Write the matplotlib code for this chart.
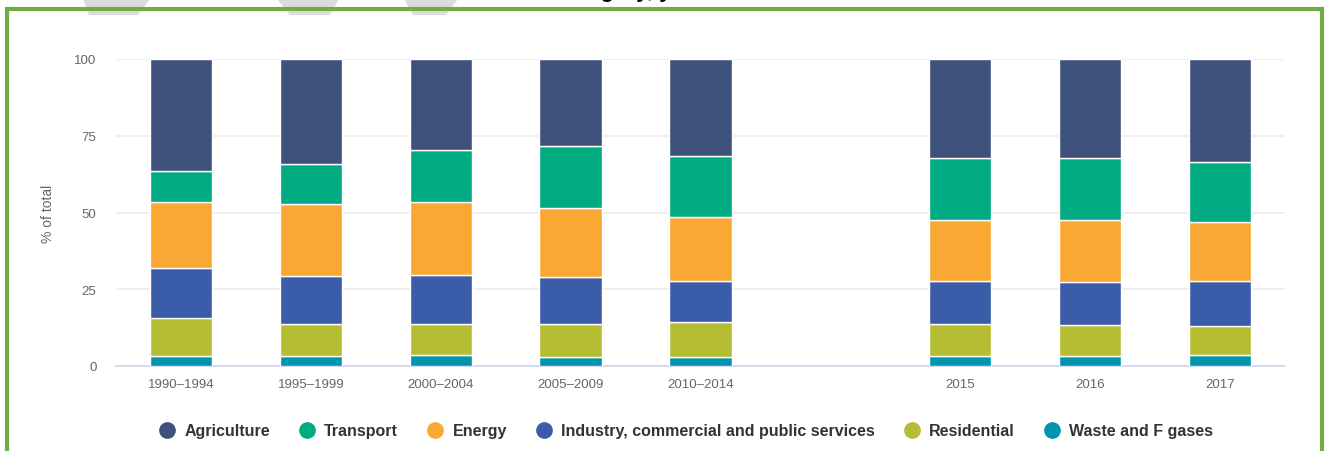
import matplotlib.pyplot as plt
from matplotlib.patches import Polygon, Rectangle
from matplotlib.lines import Line2D
import numpy as np

# data (% of total)
periods = ['1990–1994', '1995–1999', '2000–2004', '2005–2009', '2010–2014',
           '2015', '2016', '2017']
sectors = ['Waste and F gases', 'Residential',
           'Industry, commercial and public services', 'Energy',
           'Transport', 'Agriculture']
waste = [3.3, 3.3, 3.6, 3.0, 3.0, 3.2, 3.2, 3.6]
residential = [12.3, 10.4, 10.1, 10.7, 11.2, 10.5, 10.2, 9.3]
industry = [16.3, 15.6, 15.9, 15.4, 13.4, 13.9, 13.8, 14.7]
energy = [21.5, 23.5, 23.9, 22.4, 20.8, 20.1, 20.5, 19.2]
transport = [10.1, 13.0, 17.0, 20.1, 19.9, 20.0, 20.0, 19.7]
agriculture = [36.5, 34.2, 29.5, 28.4, 31.7, 32.3, 32.3, 33.5]

colors = {
    'Agriculture': '#3f527c',
    'Transport': '#00ab82',
    'Energy': '#f9a833',
    'Industry, commercial and public services': '#3b5ca9',
    'Residential': '#b5bd33',
    'Waste and F gases': '#0094ad',
}

FONT = ['Liberation Sans', 'DejaVu Sans']
plt.rcParams['font.family'] = FONT

W, H = 1330, 452
fig = plt.figure(figsize=(W / 100, H / 100), dpi=100)

# plot area in pixel terms
left, right, top, bottom = 116, 1285, 60, 367
ax = fig.add_axes([left / W, 1 - bottom / H, (right - left) / W, (bottom - top) / H])

# one empty slot between the 5-year groups and the single years
x = np.arange(len(periods)) + (np.arange(len(periods)) >= 5)

series = [waste, residential, industry, energy, transport, agriculture]
base = np.zeros(len(periods))
for name, vals in zip(sectors, series):
    ax.bar(x, vals, bottom=base, width=0.48, color=colors[name],
           edgecolor='white', linewidth=1.0, zorder=3)
    base += np.array(vals)

ax.set_xlim(-0.5, 8.5)
ax.set_ylim(0, 100)
ax.set_yticks([0, 25, 50, 75, 100])
ax.set_xticks(x)
ax.set_xticklabels(periods)
ax.tick_params(axis='both', length=0, colors='#666666', labelsize=9.5)
ax.tick_params(axis='y', pad=14)
ax.tick_params(axis='x', pad=9)
ax.grid(axis='y', color='#ececec', linewidth=1.2, zorder=0)
for s in ['top', 'right', 'left']:
    ax.spines[s].set_visible(False)
ax.spines['bottom'].set_color('#ccd6eb')
ax.spines['bottom'].set_linewidth(1.2)
ax.set_ylabel('% of total', color='#666666', fontsize=10, labelpad=0)
ax.yaxis.set_label_coords(-(left - 55) / (right - left), 0.5)

# legend
order = ['Agriculture', 'Transport', 'Energy',
         'Industry, commercial and public services', 'Residential',
         'Waste and F gases']
handles = [Line2D([], [], marker='o', linestyle='none', markersize=11,
                  markerfacecolor=colors[n], markeredgecolor=colors[n])
           for n in order]
leg = fig.legend(handles, order, loc='center', bbox_to_anchor=(684 / W, 1 - 432 / H),
                 ncol=6, frameon=False, handletextpad=0.35, columnspacing=1.55,
                 handlelength=1.5,
                 prop={'family': FONT, 'weight': 'bold', 'size': 11.5})
for t in leg.get_texts():
    t.set_color('#333333')

# grey shapes peeking in at the top
for xs in [(83, 150, 138, 89), (277, 339, 330, 290), (404, 458, 446, 413)]:
    pts = [(xs[0] / W, 1.0), (xs[1] / W, 1.0), (xs[2] / W, 1 - 16 / H), (xs[3] / W, 1 - 16 / H)]
    fig.patches.append(Polygon(pts, closed=True, transform=fig.transFigure,
                               facecolor='#dcdcdc', edgecolor='none'))

# clipped title fragment (only its lower edge shows above the frame)
fig.text(556 / W, 1 + 8 / H, 'category, year', ha='left', va='center',
         fontsize=16, fontweight='bold', color='black')

# green frame
fig.patches.append(Rectangle((6.5 / W, -0.05), (1321.5 - 6.5) / W, 1.05 - 10 / H,
                             transform=fig.transFigure, fill=False,
                             edgecolor='#70ad47', linewidth=3))

fig.savefig('out.png', dpi=100)
